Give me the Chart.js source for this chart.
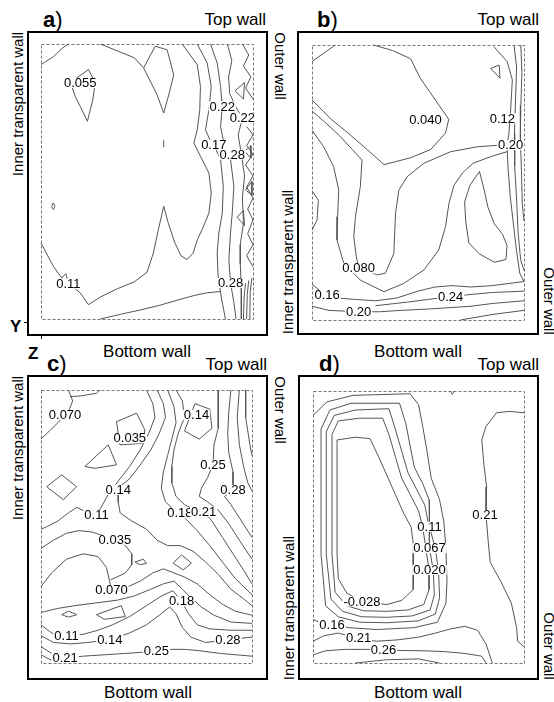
<!DOCTYPE html>
<html>
<head>
<meta charset="utf-8">
<script src="https://cdn.jsdelivr.net/npm/chart.js@4.4.1/dist/chart.umd.min.js"></script>
<style>
body { margin:0; width:554px; height:702px; background:#fff; position:relative; overflow:hidden;
       font-family:"Liberation Sans", Arial, sans-serif; }
.t { position:absolute; white-space:nowrap; color:#000; line-height:1; font-size:17px; }
.r { font-size:15px; transform:translate(-50%,-50%) rotate(-90deg); }
.rr { font-size:15px; transform:translate(-50%,-50%) rotate(90deg); }
.p { font-size:22px; }
.p b { font-weight:bold; }
.tw { text-align:right; }
.bw { transform:translateX(-50%); }
.mk { position:absolute; background:#000; }
</style>
</head>
<body>

<div class="t p" style="left:43px;top:9px"><b>a</b>)</div>
<div class="t p" style="left:317px;top:9px"><b>b</b>)</div>
<div class="t p" style="left:47px;top:353px"><b>c</b>)</div>
<div class="t p" style="left:319px;top:353px"><b>d</b>)</div>

<div class="t tw" style="right:288px;top:11px">Top wall</div>
<div class="t tw" style="right:15px;top:11px">Top wall</div>
<div class="t tw" style="right:287px;top:356px">Top wall</div>
<div class="t tw" style="right:15px;top:356px">Top wall</div>

<div class="t bw" style="left:147px;top:343px">Bottom wall</div>
<div class="t bw" style="left:418px;top:343px">Bottom wall</div>
<div class="t bw" style="left:148px;top:684px">Bottom wall</div>
<div class="t bw" style="left:418px;top:684px">Bottom wall</div>

<div class="t r" style="left:17px;top:104px">Inner transparent wall</div>
<div class="t r" style="left:17px;top:448px">Inner transparent wall</div>
<div class="t r" style="left:287px;top:262px">Inner transparent wall</div>
<div class="t r" style="left:288px;top:608px">Inner transparent wall</div>

<div class="t rr" style="left:280px;top:66px">Outer wall</div>
<div class="t rr" style="left:280px;top:410px">Outer wall</div>
<div class="t rr" style="left:549px;top:301px">Outer wall</div>
<div class="t rr" style="left:549px;top:646px">Outer wall</div>

<div class="t" style="left:10px;top:318px;font-weight:bold">Y</div>
<div class="t" style="left:28px;top:345px;font-weight:bold">Z</div>
<div class="mk" style="left:24px;top:322px;width:3px;height:1px"></div>
<div class="mk" style="left:41px;top:336px;width:1px;height:3px"></div>

<script>
// contour lines, x/y in % of the measured region (x: inner -> outer wall, y: bottom -> top)
const aLines = [
    [[0,92.5],[6,95.5],[10,98.5],[13,100]],
    [[28,100],[36,97.5],[44,95],[48.4,91.3]],
    [[48.4,91.3],[53.9,99.2],[59.5,97.9],[62.6,88.8],[60.3,81.6],[57.9,74.9],[54.7,81.6],[50.8,87.6],[48.4,91.3]],
    [[14.5,86.4],[22.4,90.7],[25.6,85.8],[24.4,79.6],[21.9,71.9],[18.5,77.3],[16.1,81],[14.5,84.6],[14.5,86.4]],
    [[0,27.6],[5.8,19.2],[9.8,14.9],[11.7,16.5],[12.9,13],[18.5,9.5],[22.4,5.2],[28,8],[36,11],[44,13.5],[50,17],[53,24],[55.5,33],[57.9,41],[60,35],[63,28],[66,23],[68.9,21.6],[71.8,24],[73.7,28.8],[76,32.5],[79.2,38.5],[80.3,45.8],[79.2,53.1],[75.2,59.2],[72.1,64],[73.7,68.8],[74.9,76.1],[75.2,84.6],[73.7,92.5],[66.6,100]],
    [[73.7,100],[78.4,93.1],[80.3,84.6],[79.2,76.1],[77.6,68.8],[79.5,65.5],[81.5,63.4],[84.7,57.9],[86,48.2],[85.5,38.5],[83.9,31.3],[83.1,24],[83.5,16],[85,8],[87,0]],
    [[80,100],[83.1,93.1],[84.7,84.6],[85.5,77.3],[84.7,70],[86.3,64],[89.4,57.9],[91,48.2],[90.2,38.5],[89.4,31.3],[88.6,21.6],[89.4,13.1],[91,6],[92,0]],
    [[87.9,100],[90,94],[88.5,88],[89,82],[92,77],[95,73],[93,67],[94.5,60],[96,52],[95,44],[95.5,35],[94,27],[94,20],[94.5,12],[94.5,0]],
    [[95,100],[98,96],[95.5,92],[99,88],[96.5,84],[100,80]],
    [[97,70],[100,67],[97,63],[100,60],[96.5,56],[100,52],[97,48],[100,44],[97.5,40],[100,36],[97.5,31],[100,27],[97,23],[100,19]],
    [[91.5,83],[96,86],[95.5,80],[91.5,83]],
    [[96,61],[99,63],[99,58.5],[96,61]],
    [[92.5,37],[95.5,39.5],[96,34],[92.5,37]],
    [[96.5,47],[99.5,50],[99.5,45],[96.5,47]],
    [[28,0],[38,1.8],[47,3.3],[56,5],[65,7],[72,8.5],[78,9.5],[84.6,10]],
    [[57.9,62.5],[57.9,65]],
    [[5,41],[5.8,42.2],[6.6,41],[5.8,39.8],[5,41]],
    [[95.5,0],[95.8,8],[96.5,13]],
    [[97,0],[97.3,9],[98,14]],
    [[98.5,0],[98.7,10],[99.5,15]]
];
const aLabels = [
    ["0.055",18.5,85.8],["0.22",85.5,77.3],["0.22",95,73],["0.17",81.5,63.4],
    ["0.28",90.2,59.8],["0.11",12.9,12.8],["0.28",89.4,13.1]
];

const bLines = [
    [[0,94],[5.5,97],[11,100]],
    [[29,100],[38,98],[46.5,95],[51,88],[55.5,83],[60,78],[64.5,73],[63,68],[56,62],[46.5,59],[34,56.5],[26,62],[17,68],[9,73],[0,80]],
    [[0,76],[6,72],[13,67],[19,62],[23.6,58.2],[22.8,48.5],[20.5,37.6],[19.7,30.3],[20.9,23],[22,18.8],[25.2,18.2],[30.7,16.4],[34.6,17],[38.6,24.2],[39.4,38.8],[41,47.3],[44.9,52.1],[52.8,57],[65.4,61.2],[78,63],[89,63.6]],
    [[0,69],[5.5,63],[10.2,55.8],[12.6,47.3],[12.1,37.6],[11.8,29.1],[15,20.6],[22.8,14.5],[33.9,10.3],[43.3,13.3],[52.8,18.2],[59.8,25.5],[63,34],[64.6,42.4],[67,49],[71,53.5],[76,57],[84.3,59.4],[92,61.2]],
    [[79,54],[81,48],[83,41],[86,35],[90,31],[92,27],[91.5,22],[86,21],[79,24],[74,28],[72.5,36],[72,43],[74.5,49],[79,54]],
    [[0,47],[3,43.6],[2.4,36.4],[0,32.7]],
    [[85.8,99.4],[92.1,93.9],[94.5,87.3],[93.7,76.4],[92.9,67.9],[92,63.6],[92.5,55],[93.5,45],[95,35],[96.5,25],[98,17],[100,14]],
    [[95.3,100],[96.5,92],[96,80],[95.5,68],[95.6,56],[96.5,44],[97.2,32],[98.4,22],[100,18]],
    [[98.5,100],[99,90],[98.5,78],[98.3,66],[98.8,54],[99.2,42],[100,36]],
    [[84.3,91.5],[88.3,92.7],[88.7,87.9],[84.3,91.5]],
    [[0,13],[4,10.5],[7.1,9.1],[12,8],[20,7.5],[30,7],[40,8],[50,10.5],[58,12],[66,12.5],[75,12],[85,12.5],[100,14]],
    [[0,5],[8,3.5],[22,3],[32,3],[42,3.5],[55,4],[65,4.5],[75,5],[85,6],[100,7]],
    [[30,5.2],[45,6.5],[55,7.5],[65.4,8.5],[75,9.3],[85,10],[100,10.5]],
    [[70,0],[85,2],[100,3.5]]
];
const bLabels = [
    ["0.040",53.5,72.7],["0.12",89.8,73.3],["0.20",93.7,63.6],["0.080",22,18.8],
    ["0.16",7.1,9.1],["0.20",22,3],["0.24",65.4,8.5]
];

const cLines = [
    [[13,100],[15,96],[13,92],[11.4,90.9],[8,88],[4,85],[0,82]],
    [[13.7,97.6],[18.5,97.8],[26.3,98.8],[27.9,100]],
    [[35.8,88.4],[45.3,91.5],[49.2,85.4],[48.4,80.5],[37.4,79.9],[35.8,88.4]],
    [[20.8,72],[31.9,79.9],[35.8,72.6],[25.6,71.3],[20.8,72]],
    [[2.7,64.6],[9.8,68.9],[16.9,64.6],[10.6,59.8],[2.7,64.6]],
    [[50,100],[53,95],[54,90],[51,84],[47,78],[42,72],[37,67],[32,62],[28.5,57],[26.3,54.3],[21,55.5],[17,57],[13,55],[8,52],[3,50],[0,49]],
    [[55,100],[58,95],[59,90],[56,84],[52,78],[47,72.5],[42,67.5],[38,65],[36.6,63.4],[36.6,59],[37.5,55],[43,52],[50,49],[55,45],[60,43],[66,43],[72,41],[78,37],[84,32.5],[90,27],[96,23.5],[100,21]],
    [[60,100],[63,94],[64,88],[62,82],[60,76],[58,70],[57,64],[59,59],[63,56],[65.8,54.9],[69,52.5],[74,48.5],[80,43],[86,37],[92,31],[100,25]],
    [[68,85],[73,95],[80,93],[81,86],[75,82],[68,85]],
    [[64,100],[67,96],[68,90],[65,84],[63,78],[62,72],[62,66],[64,61],[68,58],[72,56.5],[77.1,55.5],[81,52],[86,46],[91,40],[96,34],[100,29]],
    [[84,100],[84,93],[84,86],[82,80],[81.5,72.6],[79,68],[76,64],[75,61],[79,59],[84,56],[89,51],[94,45],[100,38]],
    [[90,100],[89,92],[88.5,84],[89,77],[91,70],[91,63.4],[87,61],[90,58],[95,52],[100,46]],
    [[94,100],[93,90],[94,80],[96,72],[98,66],[100,63]],
    [[97,100],[97,90],[99,80],[100,76]],
    [[0,42],[6,45],[12,47.5],[18,48.5],[24,48],[30,46.5],[35,45.1],[40,43],[43,40],[43,36],[40,33],[36,31.5],[33,30.5]],
    [[0,28],[5,33],[12,38],[20,40],[27,39],[31,35],[32.5,30],[33.4,26.8],[40,27.5],[47,30],[53,33],[58,34.5],[63,33],[68,31.5],[74,29],[80,25],[86,21.5],[92,19],[100,17.5]],
    [[44.5,37],[48.5,38],[50,36.5],[47,36],[44.5,37]],
    [[62.6,36.6],[66.6,39.6],[71.3,36.6],[67.4,34.1],[62.6,36.6]],
    [[9.8,17.7],[13,19],[17,17.7],[13,16.8],[9.8,17.7]],
    [[26.3,17.7],[38,21],[40,17],[30,16],[26.3,17.7]],
    [[0,18.5],[8,20],[16,21],[26,22],[36,23],[44,24.5],[52,27],[58,29],[63,30],[67,27],[71,24],[76,20.5],[82,17.5],[90,15],[100,14.5]],
    [[0,14],[5,11],[12.1,9.8],[20,10.5],[27,12],[34,14],[42,17],[50,21],[57,24.5],[62.5,26.5],[66.6,22.6],[70,18],[74,14],[80,12.5],[90,12],[100,12]],
    [[0,10],[6,7.5],[14,7],[22,7.5],[32.6,8.5],[42,11],[50,14],[56,17.5],[61,20.5],[64,18],[67,13],[71,9.5],[78,7.5],[88.6,8.5],[100,9.5]],
    [[0,6],[5,3.5],[11.4,1.8],[20,2.5],[30,3],[40,3.5],[54.7,4.3],[62,5],[68,5],[75,4.5],[85,3.5],[100,2.5]],
    [[0,3],[5,1],[8,0]]
];
const cLabels = [
    ["0.070",11.4,90.9],["0.035",42.1,82.3],["0.14",73.7,90.9],["0.25",81.5,72.6],
    ["0.28",91,63.4],["0.14",36.6,63.4],["0.11",26.3,54.3],["0.18",65.8,54.9],
    ["0.21",77.1,55.5],["0.035",35,45.1],["0.070",33.4,26.8],["0.18",66.6,22.6],
    ["0.11",12.1,9.8],["0.14",32.6,8.5],["0.28",88.6,8.5],["0.25",54.7,4.3],["0.21",11.4,1.8]
];

const dLines = [
    [[11.4,82],[20,83],[27,82.5],[31,76],[35,69],[39,62],[43,55],[46.5,50],[47.5,44],[47.5,27],[42,23],[35,21.5],[28,22],[23.2,22.6],[16,25.7],[12,31],[11.4,40],[11.4,60],[11.4,82]],
    [[9,84],[12,89],[22,90],[33,90],[36,84],[39,76],[42,68],[46,62],[50,56],[52,50],[53.5,42],[55,34.2],[55,27],[52.5,21.5],[45,19.5],[35,19],[24,19.2],[16,21],[10.5,26],[9,40],[9,60],[9,84]],
    [[6.3,85],[10,91],[20,93],[36,93.5],[39,86],[42,78],[45,70],[49,64],[53,58],[55,50],[55.2,42.2],[57,34],[57.5,25],[55.5,19.5],[47,17.3],[35,16.8],[23,17],[14,19],[8.5,23.5],[6.3,40],[6.3,60],[6.3,85]],
    [[3.8,86],[8,93],[18,95.5],[41,95.5],[44,88],[46,80],[48,72],[52,66],[55,60],[55.2,50.1],[58,42],[59.5,34],[60,24],[58,18],[50,15.5],[35,14.8],[22,15],[12,17],[6,21],[3.8,40],[3.8,60],[3.8,86]],
    [[0,91],[6.6,96],[19,98.4],[46,99],[50,95],[52,87],[54,78],[56,68],[60,60],[62,52],[63,42],[63.5,30],[63,22],[59,15],[48,13],[30,12.3],[17,13],[9,14.1],[3,15],[0,16]],
    [[100,92],[93,92.5],[87,92],[82,87],[80,82],[81,73],[82.3,64.8],[82,54.4],[83,45],[84,37],[89,30],[94,22],[96.5,13],[97,8],[100,6]],
    [[0,8],[5,10],[12,11],[21.6,9.2],[30,8],[40,8.5],[50,9.5],[58,11],[65,12.5],[72,13.5],[78,12],[82,7],[85,0]],
    [[0,3],[6,4.5],[15,5],[25,5],[33.4,4.9],[42,4.6],[52,4.5],[62,4.2],[72,3.5],[80,2.5],[82,0]],
    [[20,0],[35,1.2],[50,1.5],[60,0]],
    [[65,100],[66,98.8],[67,100]]
];
const dLabels = [
    ["0.21",81.5,54.4],["0.11",55.2,50.1],["0.067",55.2,42.2],["0.020",55.2,34.2],
    ["-0.028",23.2,22.6],["0.16",9,14.1],["0.21",21.6,9.2],["0.26",33.4,4.9]
];

// page layout: outer frame and dashed region of each panel [left, top, right, bottom]
const paineis = [
    { frame:[27,31,268,336], inner:[41,44,253,319], lines:aLines, labels:aLabels },
    { frame:[297,31,539,335], inner:[312,45,524,320], lines:bLines, labels:bLabels },
    { frame:[27,375,268,680], inner:[41,390,252,663], lines:cLines, labels:cLabels },
    { frame:[298,375,539,680], inner:[313,391,524,663], lines:dLines, labels:dLabels }
];

const molduraPlugin = {
    id: "moldura",
    beforeDatasetsDraw(chart) {
        const { ctx, chartArea: a } = chart;
        ctx.save();
        ctx.strokeStyle = "#777";
        ctx.lineWidth = 1;
        ctx.setLineDash([3, 2]);
        ctx.strokeRect(Math.round(a.left) + 0.5, Math.round(a.top) + 0.5, Math.round(a.width), Math.round(a.height));
        ctx.restore();
    },
    afterDatasetsDraw(chart, args, opts) {
        const { ctx } = chart;
        const sx = chart.scales.x, sy = chart.scales.y;
        ctx.save();
        ctx.font = '13px "Liberation Sans", Arial, sans-serif';
        ctx.textAlign = "center";
        ctx.textBaseline = "middle";
        opts.items.forEach(([txt, x, y]) => {
            const px = sx.getPixelForValue(x), py = sy.getPixelForValue(y);
            const w = ctx.measureText(txt).width;
            ctx.fillStyle = "#fff";
            ctx.fillRect(px - w / 2 - 1, py - 5, w + 2, 10);
            ctx.fillStyle = "#000";
            ctx.fillText(txt, px, py + 0.5);
        });
        // solid outer frame
        ctx.strokeStyle = "#000";
        ctx.lineWidth = 2;
        ctx.strokeRect(3, 3, chart.width - 6, chart.height - 6);
        ctx.restore();
    }
};

function desenharPainel(p) {
    const [fl, ft, fr, fb] = p.frame;
    const [il, it, ir, ib] = p.inner;
    const w = fr - fl + 4, h = fb - ft + 4;
    const cv = document.createElement("canvas");
    cv.width = w;
    cv.height = h;
    cv.style.cssText = `position:absolute;left:${fl - 2}px;top:${ft - 2}px;width:${w}px;height:${h}px`;
    document.body.appendChild(cv);

    new Chart(cv, {
        type: "scatter",
        data: {
            datasets: p.lines.map(pts => ({
                data: pts.map(([x, y]) => ({ x, y })),
                showLine: true,
                borderColor: "#555",
                borderWidth: 1,
                pointRadius: 0,
                tension: 0,
                clip: 1
            }))
        },
        options: {
            responsive: false,
            animation: false,
            devicePixelRatio: 1,
            events: [],
            layout: { padding: { left: il - fl + 2, top: it - ft + 2, right: fr + 2 - ir, bottom: fb + 2 - ib } },
            scales: {
                x: { type: "linear", min: 0, max: 100, display: false },
                y: { type: "linear", min: 0, max: 100, display: false }
            },
            plugins: {
                legend: { display: false },
                tooltip: { enabled: false },
                moldura: { items: p.labels }
            }
        },
        plugins: [molduraPlugin]
    });
}

paineis.forEach(desenharPainel);
</script>
</body>
</html>
